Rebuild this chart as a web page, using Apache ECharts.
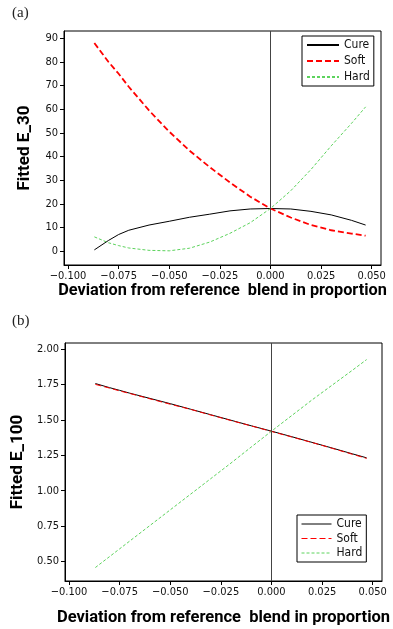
<!DOCTYPE html>
<html><head><meta charset="utf-8">
<script src="https://cdn.jsdelivr.net/npm/echarts@6/dist/echarts.min.js"></script>
<style>html,body{margin:0;padding:0;background:#fff}#c{width:393px;height:629px}</style>
</head><body><div id="c"></div>
<script>
// ---- data ----
const xPts = [-0.087, -0.080, -0.075, -0.070, -0.060, -0.050, -0.040, -0.030, -0.020, -0.010, 0, 0.010, 0.020, 0.030, 0.040, 0.047];
// panel (a) Fitted E_30
const cureA = [0.5, 4.5, 7, 8.8, 11, 12.6, 14.3, 15.6, 17, 17.8, 18, 17.8, 16.8, 15.3, 13, 11];
const softA = [88, 80, 75, 69.5, 59.5, 50.5, 42.5, 35.5, 29, 23, 18, 14.2, 11, 8.8, 7.4, 6.5];
const hardA = [6, 3.5, 2.3, 1.3, 0.3, 0.1, 1.2, 3.8, 7.5, 12, 18, 25.5, 34.5, 44.5, 54, 61];
// panel (b) Fitted E_100
const cureB = [1.756, 1.727, 1.708, 1.688, 1.651, 1.614, 1.575, 1.536, 1.497, 1.458, 1.420, 1.381, 1.341, 1.301, 1.260, 1.232];
const softB = [1.750, 1.724, 1.704, 1.686, 1.648, 1.610, 1.574, 1.534, 1.495, 1.457, 1.418, 1.379, 1.340, 1.299, 1.257, 1.228];
const hardB = [0.458, 0.535, 0.590, 0.645, 0.755, 0.865, 0.975, 1.085, 1.195, 1.308, 1.420, 1.530, 1.640, 1.745, 1.850, 1.925];
const seriesNames = ['Cure', 'Soft', 'Hard'];
// ticks
const xTicks = [-0.1, -0.075, -0.05, -0.025, 0, 0.025, 0.05];
const xTickLabels = ['\u22120.100', '\u22120.075', '\u22120.050', '\u22120.025', '0.000', '0.025', '0.050'];
const yTicksA = [0, 10, 20, 30, 40, 50, 60, 70, 80, 90];
const yTickLabelsA = ['0', '10', '20', '30', '40', '50', '60', '70', '80', '90'];
const yTicksB = [0.5, 0.75, 1.0, 1.25, 1.5, 1.75, 2.0];
const yTickLabelsB = ['0.50', '0.75', '1.00', '1.25', '1.50', '1.75', '2.00'];
const xTitle = 'Deviation from reference  blend in proportion';
const yTitleA = 'Fitted E_30';
const yTitleB = 'Fitted E_100';

// ---- chart ----
const NARROW = '"DejaVu Sans Condensed", sans-serif';
const TITLEF = 'Roboto, "Liberation Sans", sans-serif';
const pairs = ys => xPts.map((x, i) => [x, ys[i]]);
const lbl = (ticks, labels) => v => { const i = ticks.findIndex(t => Math.abs(t - v) < 1e-9); return i >= 0 ? labels[i] : ''; };

function xAxisCfg(gi, gap, fs) {
  return {
    type: 'value', gridIndex: gi, min: -0.102, max: 0.0546,
    axisLine: { show: true, onZero: false, lineStyle: { color: '#000', width: 1 } },
    axisTick: { show: true, customValues: xTicks, length: 4, lineStyle: { color: '#000' } },
    axisLabel: { customValues: xTicks, formatter: lbl(xTicks, xTickLabels), color: '#111', fontSize: 11, fontFamily: NARROW, margin: 6, hideOverlap: false, showMinLabel: true, showMaxLabel: true },
    splitLine: { show: false },
    name: xTitle, nameLocation: 'middle', nameGap: gap,
    nameTextStyle: { fontSize: fs, fontWeight: 'bold', color: '#000', fontFamily: TITLEF }
  };
}
function yAxisCfg(gi, min, max, ticks, labels, name) {
  return {
    type: 'value', gridIndex: gi, min: min, max: max,
    axisLine: { show: true, onZero: false, lineStyle: { color: '#000', width: 1 } },
    axisTick: { show: true, customValues: ticks, length: 4, lineStyle: { color: '#000' } },
    axisLabel: { customValues: ticks, formatter: lbl(ticks, labels), color: '#111', fontSize: 11, fontFamily: NARROW, margin: 6, hideOverlap: false },
    splitLine: { show: false },
    name: name, nameLocation: 'middle', nameRotate: 90, nameGap: 31,
    nameTextStyle: { fontSize: 17, fontWeight: 'bold', color: '#000', fontFamily: TITLEF }
  };
}
const vline = { silent: true, symbol: 'none', label: { show: false }, lineStyle: { color: '#444', width: 1, type: 'solid' }, data: [{ xAxis: 0 }] };
function mk(name, gi, ys, color, width, type, withLine) {
  const s = { name: name, type: 'line', xAxisIndex: gi, yAxisIndex: gi, data: pairs(ys), symbol: 'none', showSymbol: false,
    lineStyle: { color: color, width: width, type: type }, itemStyle: { color: color }, animation: false, z: 3 };
  if (withLine) s.markLine = vline;
  return s;
}
const legItem = { opacity: 0, borderWidth: 0 };

const chart = echarts.init(document.getElementById('c'), null, { renderer: 'canvas' });
chart.setOption({
  animation: false,
  backgroundColor: '#fff',
  grid: [
    { left: 64, top: 31, width: 317, height: 234, show: true, borderColor: '#000', borderWidth: 1, containLabel: false, outerBoundsMode: 'none' },
    { left: 65, top: 343, width: 317, height: 238, show: true, borderColor: '#000', borderWidth: 1, containLabel: false, outerBoundsMode: 'none' }
  ],
  xAxis: [xAxisCfg(0, 14, 16.3), xAxisCfg(1, 28, 16.5)],
  yAxis: [
    yAxisCfg(0, -5.9, 93.1, yTicksA, yTickLabelsA, yTitleA),
    yAxisCfg(1, 0.363, 2.042, yTicksB, yTickLabelsB, yTitleB)
  ],
  legend: [
    { orient: 'vertical', left: 302, top: 36, padding: [3, 4, 3, 4], itemWidth: 32, itemHeight: 12, itemGap: 4,
      borderColor: '#000', borderWidth: 1, backgroundColor: '#fff', selectedMode: false,
      itemStyle: legItem,
      textStyle: { fontSize: 12, color: '#111', fontFamily: NARROW },
      data: seriesNames },
    { orient: 'vertical', left: 297, top: 515, padding: [3, 4, 3, 4], itemWidth: 30, itemHeight: 12, itemGap: 2.5,
      borderColor: '#000', borderWidth: 1, backgroundColor: '#fff', selectedMode: false,
      itemStyle: legItem,
      textStyle: { fontSize: 12, color: '#111', fontFamily: NARROW },
      data: [
        { name: 'Cure', lineStyle: { width: 1, type: 'solid' } },
        { name: 'Soft', lineStyle: { width: 1, type: [6, 3] } },
        { name: 'Hard', lineStyle: { width: 1, type: [3, 2] } }
      ] }
  ],
  graphic: [
    { type: 'text', left: 12, top: 6, style: { text: '(a)', fontSize: 15, fontFamily: '"Liberation Serif", serif', fill: '#222' } },
    { type: 'text', left: 12, top: 314, style: { text: '(b)', fontSize: 15, fontFamily: '"Liberation Serif", serif', fill: '#222' } }
  ],
  series: [
    mk('Cure', 0, cureA, '#000', 1, 'solid', true),
    mk('Soft', 0, softA, '#ff0000', 1.8, [6, 3], false),
    mk('Hard', 0, hardA, '#5dd35d', 1, [3, 2], false),
    mk('Cure', 1, cureB, '#000', 1, 'solid', true),
    mk('Soft', 1, softB, '#ff0000', 1, [6, 3], false),
    mk('Hard', 1, hardB, '#5dd35d', 1, [3, 2], false)
  ]
});
</script>
</body></html>
